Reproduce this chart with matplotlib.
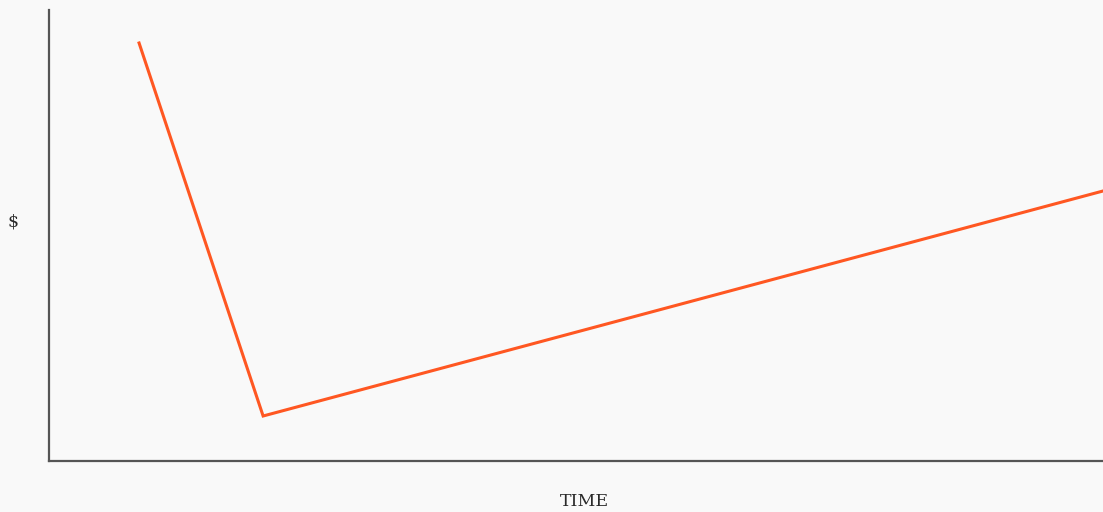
import matplotlib
matplotlib.use("Agg")
import matplotlib.pyplot as plt

# Data
time = [1.0, 2.0, 8.77]
value = [418, 45, 270]
x_label = "TIME"
y_label = "$"

bg = "#f9f9f9"
fig = plt.figure(figsize=(11.03, 5.12), dpi=100, facecolor=bg)
ax = fig.add_axes([49 / 1103, 1 - 461 / 512, 1 - 49 / 1103, (461 - 10) / 512])
ax.set_facecolor(bg)
ax.plot(time, value, color="#ff5722", lw=2.2, solid_joinstyle="miter")
ax.set_xlim(0.274, 8.77)
ax.set_ylim(0, 451)
ax.set_xticks([])
ax.set_yticks([])
for s in ["top", "right"]:
    ax.spines[s].set_visible(False)
for s in ["left", "bottom"]:
    ax.spines[s].set_color("#555555")
    ax.spines[s].set_linewidth(1.6)
fig.text(584 / 1103, 1 - 501 / 512, x_label, family="DejaVu Serif", fontsize=12.5,
         ha="center", va="center", color="#2a2a2a")
fig.text(13 / 1103, 1 - 222 / 512, y_label, family="DejaVu Serif", fontsize=12.5,
         ha="center", va="center", color="#2a2a2a")
fig.savefig("out.png", dpi=100, facecolor=bg)
